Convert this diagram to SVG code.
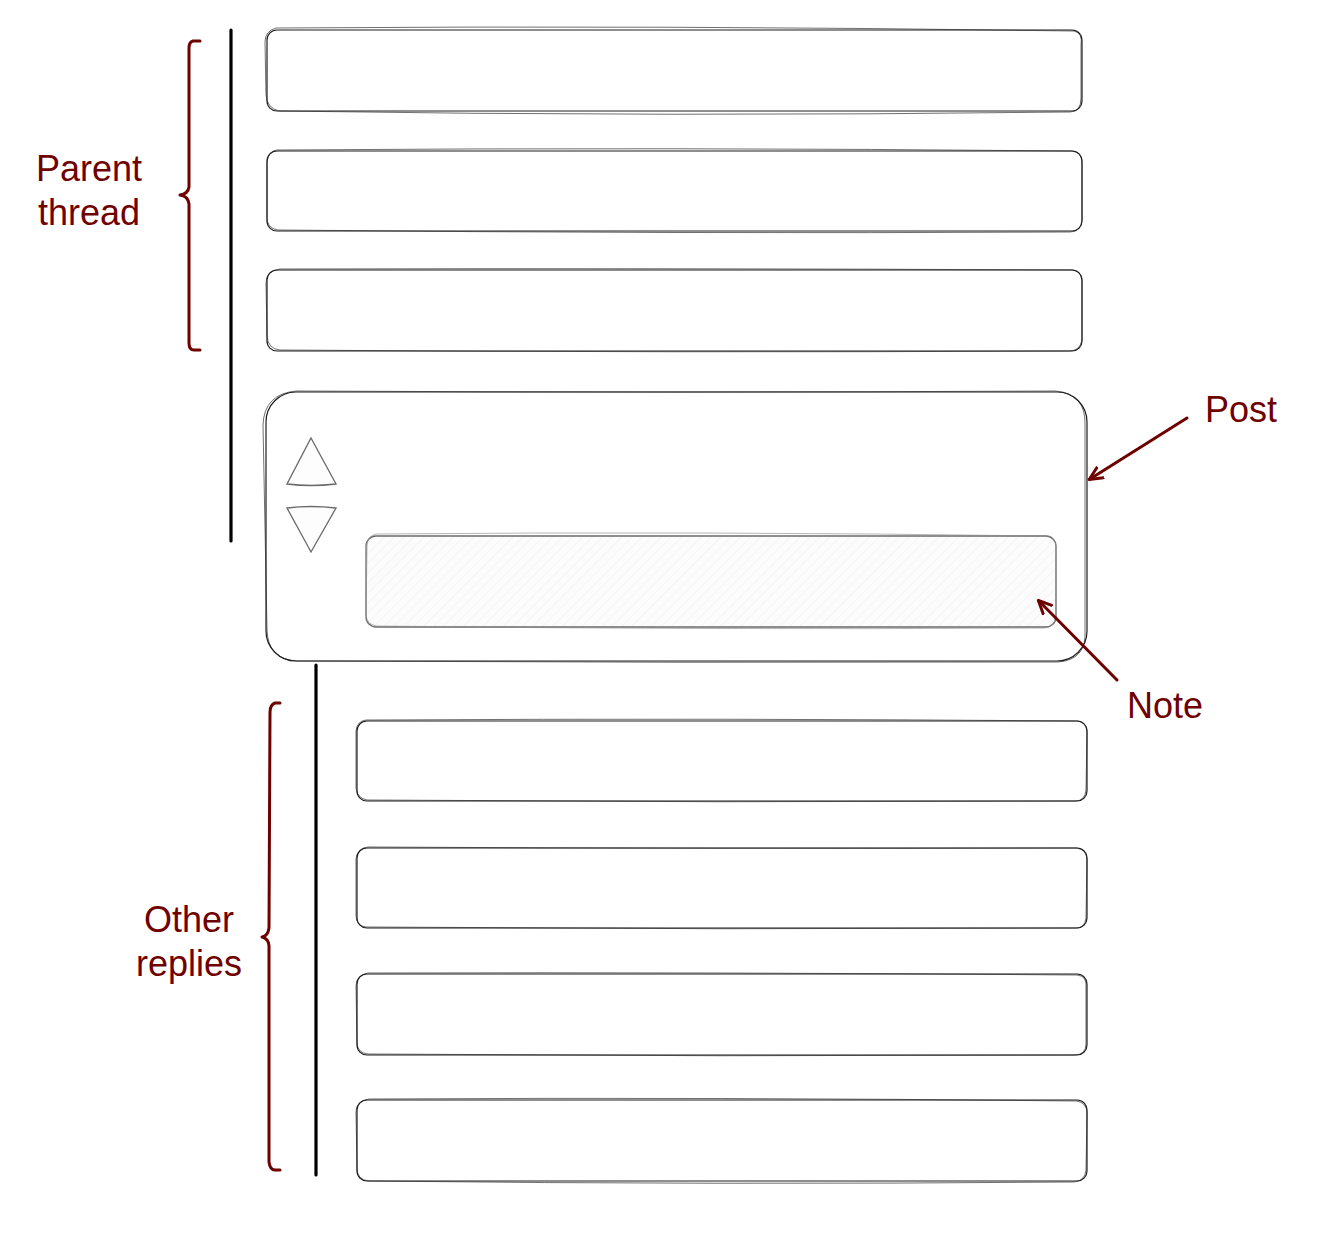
<svg xmlns="http://www.w3.org/2000/svg" width="1330" height="1238" viewBox="0 0 1330 1238">
<defs>
<style>
.box{fill:#ffffff;stroke:#1e1e1e;stroke-width:1.2}
.box2{fill:none;stroke:#1e1e1e;stroke-width:0.8;opacity:0.8}
.tri{fill:#fdfdfd;stroke:#6a6a6a;stroke-width:1.3}
.note{fill:url(#hatch);stroke:#6a6a6a;stroke-width:1.3}
.bar{stroke:#000000;stroke-width:3.2;stroke-linecap:round}
.brace{fill:none;stroke:#6f0000;stroke-width:3;stroke-linecap:round;stroke-linejoin:round}
.arrow{fill:none;stroke:#6f0000;stroke-width:3;stroke-linecap:round}
.lbl{font-family:"Liberation Sans",Arial,sans-serif;font-size:36px;fill:#6f0000}
</style>
<pattern id="hatch" width="7" height="7" patternUnits="userSpaceOnUse" patternTransform="rotate(45)">
<rect width="7" height="7" fill="#fcfcfc"/>
<line x1="0" y1="0" x2="0" y2="7" stroke="#efefef" stroke-width="1"/>
</pattern>
<marker id="ah" markerWidth="16" markerHeight="16" refX="13" refY="8" orient="auto" markerUnits="userSpaceOnUse" viewBox="0 0 16 16">
<path d="M1,2 L14,8 L1,14" fill="none" stroke="#6f0000" stroke-width="3" stroke-linecap="round" stroke-linejoin="round"/>
</marker>
</defs>
<rect width="1330" height="1238" fill="#ffffff"/>

<g id="parent-1">
<rect class="box" x="267" y="30" width="815" height="81" rx="10"/>
<path class="box2" d="M276,28 Q670,25 1074,31 Q1083,33 1081,45 L1081,98 Q1081,112 1070,112 Q670,117 279,111 Q267,108 266,95 L265,42 Q265,31 276,28"/>
</g>
<g id="parent-2">
<rect class="box" x="267" y="151" width="815" height="80" rx="10"/>
<path class="box2" d="M277,150 Q670,147 1072,151 Q1083,152 1082,165 L1082,220 Q1081,232 1070,232 Q670,234 278,230 Q266,228 267,216 L267,162 Q268,151 277,150"/>
</g>
<g id="parent-3">
<rect class="box" x="267" y="270" width="815" height="81" rx="10"/>
<path class="box2" d="M280,269 Q670,268 1073,270 Q1083,272 1082,284 L1082,340 Q1080,351 1069,351 Q670,353 280,350 Q268,349 267,336 L266,283 Q266,271 280,269"/>
</g>

<g id="post">
<rect class="box" x="266" y="392" width="821" height="269" rx="30"/>
<path class="box2" d="M296,391 Q680,393 1055,391 Q1086,393 1085,425 L1085,630 Q1087,660 1058,662 Q680,663 298,661 Q268,660 267,630 L263,425 Q264,394 296,391"/>
<g id="vote-up">
<path class="tri" d="M311,438 L336,484 Q311,487 287,484 Z"/>
</g>
<g id="vote-down">
<path class="tri" d="M287,508 Q311,505 336,508 L311,552 Z"/>
</g>
<g id="note">
<rect class="note" x="366" y="536" width="690" height="91" rx="10"/>
<path class="box2" style="stroke:#8a8a8a" d="M376,534 Q700,531 1046,536 Q1056,537 1056,548 L1056,616 Q1054,628 1044,628 Q700,630 376,626 Q366,624 366,614 L367,546 Q367,536 376,534"/>
</g>
</g>

<g id="reply-1">
<rect class="box" x="357" y="721" width="730" height="80" rx="10"/>
<path class="box2" d="M366,720 Q720,718 1078,721 Q1088,723 1087,734 L1086,790 Q1085,801 1075,801 Q720,803 367,800 Q357,798 356,788 L356,731 Q357,721 366,720"/>
</g>
<g id="reply-2">
<rect class="box" x="357" y="848" width="730" height="80" rx="10"/>
<path class="box2" d="M368,847 Q720,849 1077,848 Q1087,850 1087,860 L1086,918 Q1085,929 1074,928 Q720,930 366,927 Q356,926 356,915 L356,859 Q357,848 368,847"/>
</g>
<g id="reply-3">
<rect class="box" x="357" y="974" width="730" height="81" rx="10"/>
<path class="box2" d="M368,973 Q720,972 1077,975 Q1087,976 1086,987 L1086,1044 Q1086,1055 1074,1055 Q720,1057 368,1054 Q357,1053 357,1042 L356,986 Q356,975 368,973"/>
</g>
<g id="reply-4">
<rect class="box" x="357" y="1100" width="730" height="81" rx="10"/>
<path class="box2" d="M369,1099 Q720,1097 1077,1101 Q1087,1103 1087,1113 L1086,1170 Q1085,1181 1074,1182 Q720,1185 369,1181 Q357,1180 357,1168 L356,1112 Q356,1101 369,1099"/>
</g>

<g id="thread-bar-1">
<line class="bar" x1="231" y1="30" x2="231" y2="541"/>
</g>
<g id="thread-bar-2">
<line class="bar" x1="316" y1="665" x2="316" y2="1175"/>
</g>

<g id="brace-parent">
<path class="brace" d="M200,41 L193,41 Q189,42 189,48 L189,187 Q188,194 180,195 Q188,196 189,204 L189,343 Q189,350 194,350 L200,350"/>
</g>
<g id="brace-replies">
<path class="brace" d="M280,703 L275,703 Q270,705 270,712 L269,928 Q268,936 262,937 Q269,939 269,946 L269,1162 Q270,1170 275,1170 L280,1170"/>
</g>

<g id="label-parent">
<text class="lbl" x="89" y="181" text-anchor="middle">Parent</text>
<text class="lbl" x="89" y="225" text-anchor="middle">thread</text>
</g>
<g id="label-replies">
<text class="lbl" x="189" y="932" text-anchor="middle">Other</text>
<text class="lbl" x="189" y="976" text-anchor="middle">replies</text>
</g>
<g id="label-post">
<text class="lbl" x="1205" y="422">Post</text>
</g>
<g id="label-note">
<text class="lbl" x="1127" y="718">Note</text>
</g>

<g id="connectors">
<line class="arrow" x1="1187" y1="418" x2="1090" y2="479" marker-end="url(#ah)"/>
<line class="arrow" x1="1117" y1="680" x2="1039" y2="601" marker-end="url(#ah)"/>
</g>
</svg>
